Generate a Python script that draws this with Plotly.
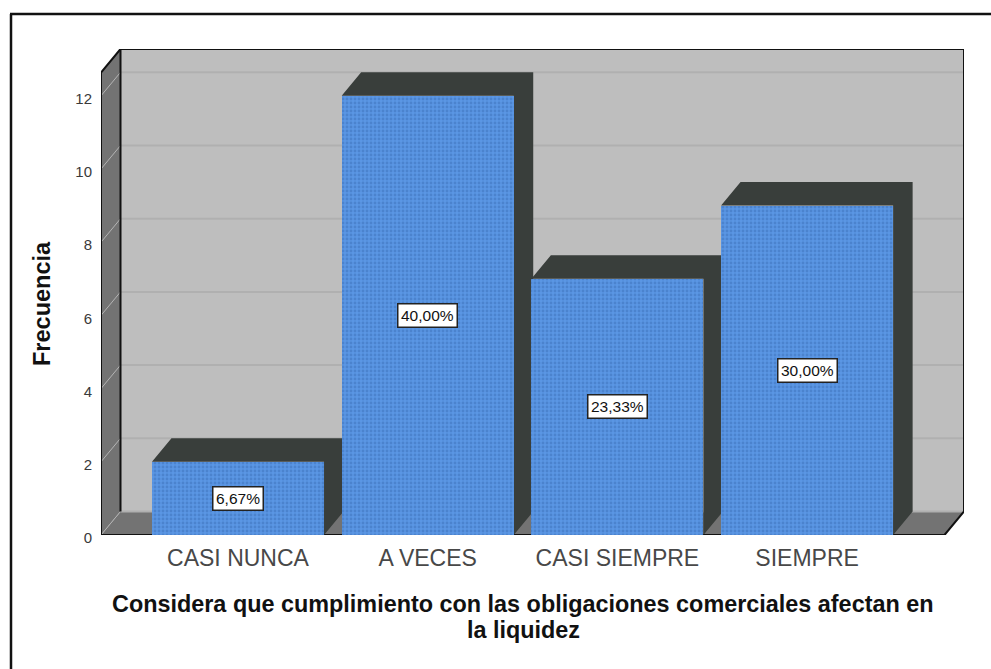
import plotly.graph_objects as go

categories = ["CASI NUNCA", "A VECES", "CASI SIEMPRE", "SIEMPRE"]
frequencies = [2, 12, 7, 9]
percent_labels = ["6,67%", "40,00%", "23,33%", "30,00%"]
y_ticks = [0, 2, 4, 6, 8, 10, 12]
x_title_lines = ["Considera que cumplimiento con las obligaciones comerciales afectan en", "la liquidez"]
y_title = "Frecuencia"

W, H = 991, 669
L, R, T, B = 101, 964, 49, 535            # plot box in pixels
PX_X, PX_Y = 189.7, 36.6                  # pixels per data unit
X0 = 238                                  # pixel of first bar centre
BAR_W = 0.907
DX, DY = 19.5 / PX_X, 23.5 / PX_Y         # 3-D depth in data units
XMIN, XMAX = (L - X0) / PX_X, (R - X0) / PX_X
YMAX = (B - T) / PX_Y
FRONT_R = XMAX - DX
FRONT_T = YMAX - DY

WALL, SIDE, DARK, GRID = "#bebebe", "#737373", "#393e3b", "#b0b0b0"
BLUE, BLUE_DOT = "#5a96e4", "#3c70b8"
FONT = "Liberation Sans"


def poly(pts, fill=None, line=None, width=0):
    path = "M " + " L ".join(f"{x},{y}" for x, y in pts) + (" Z" if fill else "")
    return dict(type="path", xref="x", yref="y", path=path, layer="below",
                fillcolor=fill or "rgba(0,0,0,0)",
                line=dict(color=line or "rgba(0,0,0,0)", width=width))


def paper_x(px):
    return (px - L) / (R - L)


def paper_y(py):
    return (B - py) / (B - T)


xs = list(range(len(categories)))

shapes = [
    poly([(XMIN + DX, DY), (XMAX, DY), (XMAX, YMAX), (XMIN + DX, YMAX)], WALL),
    poly([(XMIN, 0), (XMIN + DX, DY), (XMIN + DX, YMAX), (XMIN, FRONT_T)], SIDE),
    poly([(XMIN, 0), (FRONT_R, 0), (XMAX, DY), (XMIN + DX, DY)], SIDE),
]
for t in y_ticks:
    shapes.append(poly([(XMIN + DX, t + DY), (XMAX, t + DY)], None, GRID, 2))
    shapes.append(poly([(XMIN, t), (XMIN + DX, t + DY)], None, "#b4b4b4", 1))
shapes += [
    poly([(XMIN, 0), (XMIN, FRONT_T), (XMIN + DX, YMAX), (XMAX, YMAX), (XMAX, DY), (FRONT_R, 0), (XMIN, 0)], None, "#111111", 2),
    poly([(XMIN + DX, DY), (XMIN + DX, YMAX)], None, "#111111", 2),
    # outer page rule, left and top only
    dict(type="line", xref="paper", yref="paper", x0=paper_x(11), x1=paper_x(11),
         y0=paper_y(14), y1=paper_y(H + 2), line=dict(color="#111111", width=2.5), layer="below"),
    dict(type="line", xref="paper", yref="paper", x0=paper_x(10), x1=paper_x(W + 2),
         y0=paper_y(14), y1=paper_y(14), line=dict(color="#111111", width=2.5), layer="below"),
]
# depth faces of each bar, below the bar fronts
for x, v in zip(xs, frequencies):
    a, b = x - BAR_W / 2, x + BAR_W / 2
    shapes.append(poly([(a, v), (a + DX, v + DY), (b + DX, v + DY), (b + DX, DY), (b, 0), (b, v)], DARK))

fig = go.Figure()
fig.add_trace(go.Bar(
    x=xs, y=frequencies, width=BAR_W,
    marker=dict(color=BLUE, line=dict(width=0),
                pattern=dict(shape=".", fgcolor=BLUE_DOT, bgcolor=BLUE, size=4, solidity=0.4)),
    hoverinfo="skip", showlegend=False,
))

annotations = [
    dict(x=x, y=v / 2, text=p, showarrow=False, xref="x", yref="y",
         font=dict(family=FONT, size=15.5, color="#111111"),
         bgcolor="white", bordercolor="#222222", borderwidth=1.5, borderpad=2.5)
    for x, v, p in zip(xs, frequencies, percent_labels)
]
for line, py in zip(x_title_lines, [604, 630]):
    annotations.append(dict(xref="paper", yref="paper", x=paper_x(523), y=paper_y(py),
                            xanchor="center", yanchor="middle", text=f"<b>{line}</b>", showarrow=False,
                            font=dict(family=FONT, size=23.4, color="#111111")))
annotations.append(dict(xref="paper", yref="paper", x=paper_x(42), y=paper_y(303),
                        xanchor="center", yanchor="middle", text=f"<b>{y_title}</b>", textangle=-90,
                        showarrow=False, font=dict(family=FONT, size=23.5, color="#111111")))

fig.update_layout(
    width=W, height=H, autosize=False,
    margin=dict(l=L, r=W - R, t=T, b=H - B, pad=0),
    paper_bgcolor="white", plot_bgcolor="rgba(0,0,0,0)",
    shapes=shapes, annotations=annotations, showlegend=False, bargap=0,
    xaxis=dict(range=[XMIN, XMAX], tickmode="array", tickvals=xs, ticktext=categories,
               showgrid=False, zeroline=False, showline=False, ticks="",
               ticklabelstandoff=7,
               tickfont=dict(family=FONT, size=23, color="#484848")),
    yaxis=dict(range=[0, YMAX], tickmode="array", tickvals=y_ticks, showgrid=False,
               zeroline=False, showline=False, ticks="",
               ticklabelstandoff=8, ticklabelshift=3,
               tickfont=dict(family=FONT, size=15, color="#3a3a3a")),
)
fig.write_html("out.html", config={"displayModeBar": False},
               post_script="document.body.style.margin='0';document.body.style.overflow='hidden';")
